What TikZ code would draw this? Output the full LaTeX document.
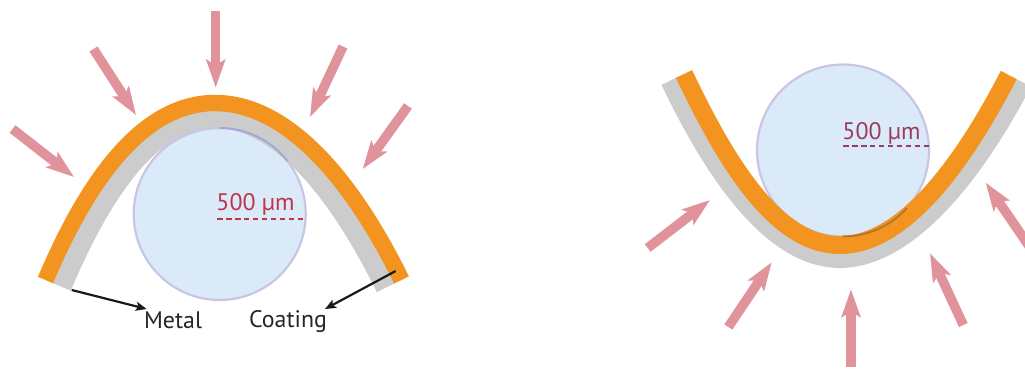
\documentclass[tikz,border=0pt]{standalone}
\usepackage{fontspec}
\setmainfont{PT Sans}
\usetikzlibrary{arrows.meta}
\definecolor{stripOrange}{HTML}{F39420}
\definecolor{stripGray}{HTML}{CCCCCC}
\definecolor{rodFill}{HTML}{DAEAF8}
\definecolor{rodEdge}{HTML}{C8C6E4}
\definecolor{rodEdgeDark}{HTML}{A8A6D6}
\definecolor{edgeBrown}{HTML}{B8742E}
\definecolor{pressPink}{HTML}{E0939A}
\definecolor{labelRed}{HTML}{BE3448}
\definecolor{labelPlum}{HTML}{9E3A5E}
\tikzset{
  x=0.02cm,y=-0.02cm,
  orangeStrip/.style={draw=stripOrange,line width=16.5*0.567pt},
  grayStrip/.style={draw=stripGray,line width=21*0.567pt},
  rod/.style={fill=rodFill,draw=rodEdge,line width=2.2*0.567pt},
  press/.style={draw=pressPink,line width=9.6*0.567pt,-{Stealth[length=28*0.567pt,width=19*0.567pt,inset=6*0.567pt]}},
  leader/.style={draw=black!90,line width=2.2*0.567pt,-{Stealth[length=11*0.567pt,width=9*0.567pt,inset=2.5*0.567pt]}},
  radius line/.style={line width=2.4*0.567pt,dash pattern=on 5.6*0.567pt off 3.4*0.567pt},
  dim text/.style={inner sep=0pt,font=\fontsize{13.6}{16}\selectfont},
  name text/.style={inner sep=0pt,font=\fontsize{13.6}{16}\selectfont,text=black!85},
}
\begin{document}
\begin{tikzpicture}
\useasboundingbox (0,0) rectangle (1025,369);
\clip (0,0) rectangle (1025,369);
% left figure
\draw[rod] (219.7,214) circle (86);
\draw[grayStrip] (61.1,286.6) .. controls (105.6,181.6) and (155,117.5) .. (215,117.5) .. controls (275,117.5) and (334.7,182.5) .. (386.2,287.5);
\draw[orangeStrip] (45.5,280) .. controls (90,175) and (145,103) .. (215,103) .. controls (285,103) and (350,175) .. (401.5,280);
\draw[draw=rodEdgeDark,line width=2*0.567pt] (219.7,128) arc (270:322:86);
\draw[draw=rodEdge,line width=2*0.567pt] (219.7,128) arc (270:225:86);
\coordinate (mA) at (71.7,290);
\coordinate (cA) at (395.7,271);
\coordinate (rL) at (217,218.7);
\coordinate (rR) at (304,218.7);
\draw[radius line,draw=labelRed] (rL) -- (rR);
\node[dim text,text=labelRed,anchor=center] (dimL) at (255.5,204.5) {500 µm};
\node[name text] (metal) at (173,320) {Metal};
\node[name text] (coating) at (288,321.5) {Coating};
\draw[leader] (mA) -- (146.7,309);
\draw[leader] (cA) -- (325,309);
\foreach \n/\tx/\ty/\hx/\hy in {a/12.5/129/74/177,b/93.5/49/136/115,c/215.7/11/215.7/87.5,d/343/46.5/310/117,e/408/106/362.7/169}{
  \coordinate (\n t) at (\tx,\ty);
  \coordinate (\n h) at (\hx,\hy);
  \draw[press] (\n t) -- (\n h);
}
% right figure
\draw[rod] (843,150.5) circle (86);
\draw[grayStrip,line width=20*0.567pt] (670.5,80.5) .. controls (711.5,166.5) and (770,258) .. (840,258) .. controls (910,258) and (978.3,166.9) .. (1022,82);
\draw[orangeStrip,line width=18*0.567pt] (684,74) .. controls (725,160) and (775,245) .. (840,245) .. controls (905,245) and (965,160) .. (1008.7,75);
\draw[draw=edgeBrown,line width=2*0.567pt] (843,236.5) arc (90:42:86);
\coordinate (sL) at (843,146);
\coordinate (sR) at (930,146);
\draw[radius line,draw=labelPlum] (sL) -- (sR);
\node[dim text,text=labelPlum] (dimR) at (881.5,133) {500 µm};
\foreach \n/\tx/\ty/\hx/\hy in {f/647.7/248/710/200,g/728.3/327/771.7/262.3,h/851/366.7/851/289.3,i/963.3/325/930/253.3,j/1040/262/985.7/182.7}{
  \coordinate (\n t) at (\tx,\ty);
  \coordinate (\n h) at (\hx,\hy);
  \draw[press] (\n t) -- (\n h);
}
\end{tikzpicture}
\end{document}
